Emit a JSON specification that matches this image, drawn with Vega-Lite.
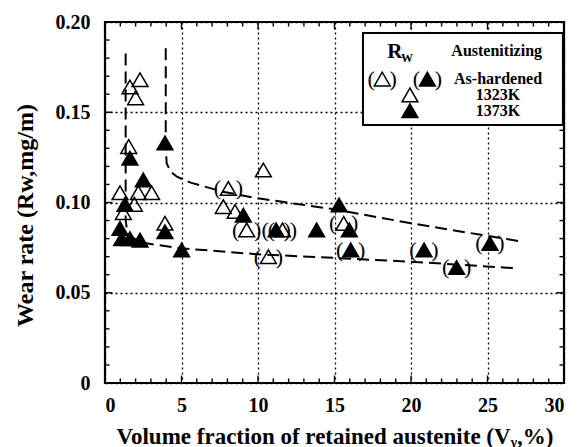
{
  "$schema": "https://vega.github.io/schema/vega-lite/v6.json",
  "width": 459,
  "height": 361,
  "autosize": {"type": "none"},
  "padding": {"left": 105, "top": 22, "right": 13, "bottom": 64},
  "background": "white",
  "config": {
    "font": "Liberation Serif",
    "view": {"stroke": "black", "strokeWidth": 2.2},
    "axis": {
      "domain": false,
      "grid": false,
      "labelFont": "Liberation Serif",
      "labelFontSize": 20,
      "labelFontWeight": "bold",
      "labelColor": "black",
      "titleFont": "Liberation Serif",
      "titleFontSize": 23,
      "titleFontWeight": "bold",
      "titleColor": "black"
    }
  },
  "datasets": {
    "curves": [
      {"curve": "lower", "i": 1, "x": 1.35, "y": 0.1826},
      {"curve": "lower", "i": 2, "x": 1.35, "y": 0.09},
      {"curve": "lower", "i": 3, "x": 1.5, "y": 0.0815},
      {"curve": "lower", "i": 4, "x": 2.6, "y": 0.0775},
      {"curve": "lower", "i": 5, "x": 5, "y": 0.0746},
      {"curve": "lower", "i": 6, "x": 10, "y": 0.0713},
      {"curve": "lower", "i": 7, "x": 15, "y": 0.0693},
      {"curve": "lower", "i": 8, "x": 20, "y": 0.0672},
      {"curve": "lower", "i": 9, "x": 27, "y": 0.0635},
      {"curve": "upper", "i": 1, "x": 3.97, "y": 0.1854},
      {"curve": "upper", "i": 2, "x": 3.97, "y": 0.13},
      {"curve": "upper", "i": 3, "x": 4.03, "y": 0.1217},
      {"curve": "upper", "i": 4, "x": 4.3, "y": 0.117},
      {"curve": "upper", "i": 5, "x": 4.7, "y": 0.1143},
      {"curve": "upper", "i": 6, "x": 5.6, "y": 0.111},
      {"curve": "upper", "i": 7, "x": 7.7, "y": 0.106},
      {"curve": "upper", "i": 8, "x": 10, "y": 0.1023},
      {"curve": "upper", "i": 9, "x": 15, "y": 0.0962},
      {"curve": "upper", "i": 10, "x": 20, "y": 0.0885},
      {"curve": "upper", "i": 11, "x": 27, "y": 0.0787}
    ],
    "symbols": [
      {"x": 1.63, "y": 0.164, "temp": "1323K", "hardened": false},
      {"x": 2.29, "y": 0.168, "temp": "1323K", "hardened": false},
      {"x": 2.0, "y": 0.158, "temp": "1323K", "hardened": false},
      {"x": 1.55, "y": 0.131, "temp": "1323K", "hardened": false},
      {"x": 0.98, "y": 0.1054, "temp": "1323K", "hardened": false},
      {"x": 2.18, "y": 0.1054, "temp": "1323K", "hardened": false},
      {"x": 3.05, "y": 0.1054, "temp": "1323K", "hardened": false},
      {"x": 1.92, "y": 0.099, "temp": "1323K", "hardened": false},
      {"x": 1.2, "y": 0.0944, "temp": "1323K", "hardened": false},
      {"x": 3.92, "y": 0.0885, "temp": "1323K", "hardened": false},
      {"x": 7.73, "y": 0.0977, "temp": "1323K", "hardened": false},
      {"x": 8.5, "y": 0.095, "temp": "1323K", "hardened": false},
      {"x": 10.35, "y": 0.118, "temp": "1323K", "hardened": false},
      {"x": 8.06, "y": 0.1078, "temp": "1323K", "hardened": true},
      {"x": 9.26, "y": 0.0848, "temp": "1323K", "hardened": true},
      {"x": 11.6, "y": 0.0848, "temp": "1323K", "hardened": true},
      {"x": 10.68, "y": 0.07, "temp": "1323K", "hardened": true},
      {"x": 15.6, "y": 0.0884, "temp": "1323K", "hardened": true},
      {"x": 1.63, "y": 0.1245, "temp": "1373K", "hardened": false},
      {"x": 2.5, "y": 0.1125, "temp": "1373K", "hardened": false},
      {"x": 3.92, "y": 0.133, "temp": "1373K", "hardened": false},
      {"x": 1.31, "y": 0.099, "temp": "1373K", "hardened": false},
      {"x": 0.98, "y": 0.0857, "temp": "1373K", "hardened": false},
      {"x": 1.09, "y": 0.08, "temp": "1373K", "hardened": false},
      {"x": 1.63, "y": 0.08, "temp": "1373K", "hardened": false},
      {"x": 2.29, "y": 0.0792, "temp": "1373K", "hardened": false},
      {"x": 3.92, "y": 0.0838, "temp": "1373K", "hardened": false},
      {"x": 5.01, "y": 0.0737, "temp": "1373K", "hardened": false},
      {"x": 9.04, "y": 0.093, "temp": "1373K", "hardened": false},
      {"x": 13.83, "y": 0.0848, "temp": "1373K", "hardened": false},
      {"x": 15.3, "y": 0.0986, "temp": "1373K", "hardened": false},
      {"x": 15.97, "y": 0.0848, "temp": "1373K", "hardened": false},
      {"x": 11.18, "y": 0.0848, "temp": "1373K", "hardened": true},
      {"x": 16.06, "y": 0.0737, "temp": "1373K", "hardened": true},
      {"x": 20.85, "y": 0.0737, "temp": "1373K", "hardened": true},
      {"x": 22.98, "y": 0.064, "temp": "1373K", "hardened": true},
      {"x": 25.16, "y": 0.0773, "temp": "1373K", "hardened": true},
      {"x": 18.12, "y": 0.1684, "temp": "1323K", "hardened": true},
      {"x": 21.07, "y": 0.1684, "temp": "1373K", "hardened": true},
      {"x": 19.93, "y": 0.1596, "temp": "1323K", "hardened": false},
      {"x": 19.93, "y": 0.1509, "temp": "1373K", "hardened": false}
    ],
    "frameTicks": [
      {"x": 1, "y": 0, "side": "bottom", "major": false}, {"x": 2, "y": 0, "side": "bottom", "major": false},
      {"x": 3, "y": 0, "side": "bottom", "major": false}, {"x": 4, "y": 0, "side": "bottom", "major": false},
      {"x": 5, "y": 0, "side": "bottom", "major": true}, {"x": 6, "y": 0, "side": "bottom", "major": false},
      {"x": 7, "y": 0, "side": "bottom", "major": false}, {"x": 8, "y": 0, "side": "bottom", "major": false},
      {"x": 9, "y": 0, "side": "bottom", "major": false}, {"x": 10, "y": 0, "side": "bottom", "major": true},
      {"x": 11, "y": 0, "side": "bottom", "major": false}, {"x": 12, "y": 0, "side": "bottom", "major": false},
      {"x": 13, "y": 0, "side": "bottom", "major": false}, {"x": 14, "y": 0, "side": "bottom", "major": false},
      {"x": 15, "y": 0, "side": "bottom", "major": true}, {"x": 16, "y": 0, "side": "bottom", "major": false},
      {"x": 17, "y": 0, "side": "bottom", "major": false}, {"x": 18, "y": 0, "side": "bottom", "major": false},
      {"x": 19, "y": 0, "side": "bottom", "major": false}, {"x": 20, "y": 0, "side": "bottom", "major": true},
      {"x": 21, "y": 0, "side": "bottom", "major": false}, {"x": 22, "y": 0, "side": "bottom", "major": false},
      {"x": 23, "y": 0, "side": "bottom", "major": false}, {"x": 24, "y": 0, "side": "bottom", "major": false},
      {"x": 25, "y": 0, "side": "bottom", "major": true}, {"x": 26, "y": 0, "side": "bottom", "major": false},
      {"x": 27, "y": 0, "side": "bottom", "major": false}, {"x": 28, "y": 0, "side": "bottom", "major": false},
      {"x": 29, "y": 0, "side": "bottom", "major": false},
      {"x": 1, "y": 0.2, "side": "top", "major": false}, {"x": 2, "y": 0.2, "side": "top", "major": false},
      {"x": 3, "y": 0.2, "side": "top", "major": false}, {"x": 4, "y": 0.2, "side": "top", "major": false},
      {"x": 5, "y": 0.2, "side": "top", "major": true}, {"x": 6, "y": 0.2, "side": "top", "major": false},
      {"x": 7, "y": 0.2, "side": "top", "major": false}, {"x": 8, "y": 0.2, "side": "top", "major": false},
      {"x": 9, "y": 0.2, "side": "top", "major": false}, {"x": 10, "y": 0.2, "side": "top", "major": true},
      {"x": 11, "y": 0.2, "side": "top", "major": false}, {"x": 12, "y": 0.2, "side": "top", "major": false},
      {"x": 13, "y": 0.2, "side": "top", "major": false}, {"x": 14, "y": 0.2, "side": "top", "major": false},
      {"x": 15, "y": 0.2, "side": "top", "major": true}, {"x": 16, "y": 0.2, "side": "top", "major": false},
      {"x": 17, "y": 0.2, "side": "top", "major": false}, {"x": 18, "y": 0.2, "side": "top", "major": false},
      {"x": 19, "y": 0.2, "side": "top", "major": false}, {"x": 20, "y": 0.2, "side": "top", "major": true},
      {"x": 21, "y": 0.2, "side": "top", "major": false}, {"x": 22, "y": 0.2, "side": "top", "major": false},
      {"x": 23, "y": 0.2, "side": "top", "major": false}, {"x": 24, "y": 0.2, "side": "top", "major": false},
      {"x": 25, "y": 0.2, "side": "top", "major": true}, {"x": 26, "y": 0.2, "side": "top", "major": false},
      {"x": 27, "y": 0.2, "side": "top", "major": false}, {"x": 28, "y": 0.2, "side": "top", "major": false},
      {"x": 29, "y": 0.2, "side": "top", "major": false},
      {"x": 0, "y": 0.01, "side": "left", "major": false}, {"x": 0, "y": 0.02, "side": "left", "major": false},
      {"x": 0, "y": 0.03, "side": "left", "major": false}, {"x": 0, "y": 0.04, "side": "left", "major": false},
      {"x": 0, "y": 0.05, "side": "left", "major": true}, {"x": 0, "y": 0.06, "side": "left", "major": false},
      {"x": 0, "y": 0.07, "side": "left", "major": false}, {"x": 0, "y": 0.08, "side": "left", "major": false},
      {"x": 0, "y": 0.09, "side": "left", "major": false}, {"x": 0, "y": 0.1, "side": "left", "major": true},
      {"x": 0, "y": 0.11, "side": "left", "major": false}, {"x": 0, "y": 0.12, "side": "left", "major": false},
      {"x": 0, "y": 0.13, "side": "left", "major": false}, {"x": 0, "y": 0.14, "side": "left", "major": false},
      {"x": 0, "y": 0.15, "side": "left", "major": true}, {"x": 0, "y": 0.16, "side": "left", "major": false},
      {"x": 0, "y": 0.17, "side": "left", "major": false}, {"x": 0, "y": 0.18, "side": "left", "major": false},
      {"x": 0, "y": 0.19, "side": "left", "major": false},
      {"x": 30, "y": 0.01, "side": "right", "major": false}, {"x": 30, "y": 0.02, "side": "right", "major": false},
      {"x": 30, "y": 0.03, "side": "right", "major": false}, {"x": 30, "y": 0.04, "side": "right", "major": false},
      {"x": 30, "y": 0.05, "side": "right", "major": true}, {"x": 30, "y": 0.06, "side": "right", "major": false},
      {"x": 30, "y": 0.07, "side": "right", "major": false}, {"x": 30, "y": 0.08, "side": "right", "major": false},
      {"x": 30, "y": 0.09, "side": "right", "major": false}, {"x": 30, "y": 0.1, "side": "right", "major": true},
      {"x": 30, "y": 0.11, "side": "right", "major": false}, {"x": 30, "y": 0.12, "side": "right", "major": false},
      {"x": 30, "y": 0.13, "side": "right", "major": false}, {"x": 30, "y": 0.14, "side": "right", "major": false},
      {"x": 30, "y": 0.15, "side": "right", "major": true}, {"x": 30, "y": 0.16, "side": "right", "major": false},
      {"x": 30, "y": 0.17, "side": "right", "major": false}, {"x": 30, "y": 0.18, "side": "right", "major": false},
      {"x": 30, "y": 0.19, "side": "right", "major": false}
    ],
    "legendBox": [{"x": 16.86, "x2": 29.93, "y": 0.1429, "y2": 0.1939}],
    "legendText": [
      {"x": 25.6, "y": 0.1839, "label": "Austenitizing"},
      {"x": 25.69, "y": 0.1684, "label": "As-hardened"},
      {"x": 25.69, "y": 0.1596, "label": "1323K"},
      {"x": 25.69, "y": 0.1509, "label": "1373K"}
    ],
    "legendR": [{"x": 18.95, "y": 0.1834, "label": "R"}],
    "legendW": [{"x": 19.35, "y": 0.1800, "label": "W"}]
  },
  "layer": [
    {
      "data": {"name": "curves"},
      "mark": {"type": "line", "stroke": "black", "strokeWidth": 2, "strokeDash": [12, 6]},
      "encoding": {
        "x": {
          "field": "x", "type": "quantitative",
          "scale": {"domain": [0, 30], "nice": false},
          "axis": {
            "orient": "bottom",
            "values": [0, 5, 10, 15, 20, 25, 30],
            "grid": true, "gridColor": "black", "gridDash": [2, 3], "gridWidth": 1.3,
            "ticks": false, "tickSize": 0, "labelPadding": 12,
            "title": "Volume fraction of retained austenite (Vᵧ,%)",
            "titleY": 53, "titleBaseline": "middle"
          }
        },
        "y": {
          "field": "y", "type": "quantitative",
          "scale": {"domain": [0, 0.2], "nice": false},
          "axis": {
            "orient": "left",
            "values": [0, 0.05, 0.1, 0.15, 0.2],
            "labelExpr": "datum.value == 0 ? '0' : format(datum.value, '.2f')",
            "grid": true, "gridColor": "black", "gridDash": [2, 3], "gridWidth": 1.3,
            "ticks": false, "tickSize": 0, "labelPadding": 15,
            "title": "Wear rate (Rw,mg/m)", "titleFontSize": 24,
            "titleX": -80, "titleY": 193, "titleAngle": -90,
            "titleAlign": "center", "titleBaseline": "middle"
          }
        },
        "detail": {"field": "curve"},
        "order": {"field": "i"}
      }
    },
    {
      "data": {"name": "frameTicks"},
      "mark": {"type": "point", "filled": false, "stroke": "black", "strokeWidth": 1.4, "opacity": 1},
      "encoding": {
        "x": {"field": "x", "type": "quantitative"},
        "y": {"field": "y", "type": "quantitative"},
        "shape": {"field": "side", "type": "nominal",
          "scale": {"domain": ["bottom", "top", "left", "right"],
                    "range": ["M0,0L0,-1", "M0,0L0,1", "M0,0L1,0", "M0,0L-1,0"]},
          "legend": null},
        "size": {"field": "major", "type": "nominal",
          "scale": {"domain": [false, true], "range": [81, 225]},
          "legend": null}
      }
    },
    {
      "data": {"name": "legendBox"},
      "mark": {"type": "rect", "fill": "white", "stroke": "black", "strokeWidth": 2},
      "encoding": {
        "x": {"field": "x", "type": "quantitative"},
        "x2": {"field": "x2"},
        "y": {"field": "y", "type": "quantitative"},
        "y2": {"field": "y2"}
      }
    },
    {
      "data": {"name": "symbols"},
      "mark": {"type": "point", "shape": "triangle-up", "size": 250, "stroke": "black", "strokeWidth": 1.5, "opacity": 1},
      "encoding": {
        "x": {"field": "x", "type": "quantitative"},
        "y": {"field": "y", "type": "quantitative"},
        "fill": {"field": "temp", "type": "nominal",
          "scale": {"domain": ["1323K", "1373K"], "range": ["transparent", "black"]}, "legend": null}
      }
    },
    {
      "data": {"name": "symbols"},
      "transform": [{"filter": "datum.hardened"}],
      "mark": {"type": "text", "text": "(", "dx": -11, "fontSize": 22, "font": "Liberation Serif", "baseline": "middle", "color": "black"},
      "encoding": {
        "x": {"field": "x", "type": "quantitative"},
        "y": {"field": "y", "type": "quantitative"}
      }
    },
    {
      "data": {"name": "symbols"},
      "transform": [{"filter": "datum.hardened"}],
      "mark": {"type": "text", "text": ")", "dx": 11, "fontSize": 22, "font": "Liberation Serif", "baseline": "middle", "color": "black"},
      "encoding": {
        "x": {"field": "x", "type": "quantitative"},
        "y": {"field": "y", "type": "quantitative"}
      }
    },
    {
      "data": {"name": "legendText"},
      "mark": {"type": "text", "fontSize": 16, "fontWeight": "bold", "font": "Liberation Serif", "baseline": "middle", "align": "center", "color": "black"},
      "encoding": {
        "x": {"field": "x", "type": "quantitative"},
        "y": {"field": "y", "type": "quantitative"},
        "text": {"field": "label"}
      }
    },
    {
      "data": {"name": "legendR"},
      "mark": {"type": "text", "fontSize": 21, "fontWeight": "bold", "font": "Liberation Serif", "baseline": "middle", "align": "center", "color": "black"},
      "encoding": {
        "x": {"field": "x", "type": "quantitative"},
        "y": {"field": "y", "type": "quantitative"},
        "text": {"field": "label"}
      }
    },
    {
      "data": {"name": "legendW"},
      "mark": {"type": "text", "fontSize": 12, "fontWeight": "bold", "font": "Liberation Serif", "baseline": "middle", "align": "left", "color": "black"},
      "encoding": {
        "x": {"field": "x", "type": "quantitative"},
        "y": {"field": "y", "type": "quantitative"},
        "text": {"field": "label"}
      }
    }
  ]
}
